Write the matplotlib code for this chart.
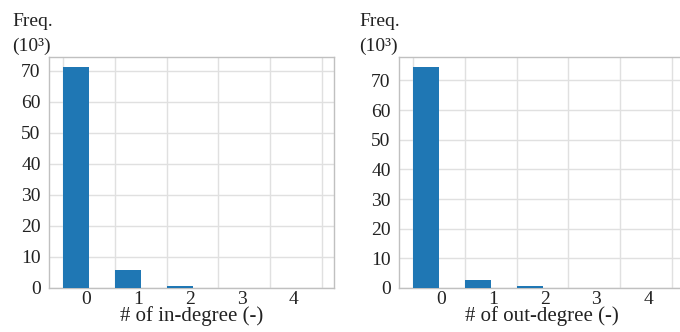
import numpy as np
import matplotlib.pyplot as plt

plt.rcParams['font.family'] = ['Liberation Serif', 'DejaVu Serif']

# degree bins and frequencies (x 10^3)
degree = [0, 1, 2, 3, 4]
freq_in = [71.1, 5.7, 0.75, 0.12, 0.03]
freq_out = [74.4, 2.7, 0.56, 0.05, 0.03]
tick_labels = ["0", "1", "2", "3", "4"]

fig = plt.figure(figsize=(6.8, 3.32), dpi=100)
W, H = 680, 332

def px(l, t, r, b):
    return [l / W, 1 - b / H, (r - l) / W, (b - t) / H]

panels = [
    (px(49, 57, 334, 288), freq_in, 74.4, "# of in-degree (-)", 0.45, 12),
    (px(399, 57, 684, 288), freq_out, 77.9, "# of out-degree (-)", 0.54, 359),
]

for rect, vals, ytop, xlab, off, fx in panels:
    ax = fig.add_axes(rect)
    ax.bar(degree, vals, width=0.5, align='edge', color='#1f77b4', zorder=3)
    ax.set_xlim(-0.27, 5.23)
    ax.set_ylim(0, ytop)
    ax.set_xticks(np.arange(0, 6))
    ax.set_xticklabels([])
    ax.set_xticks(np.array(degree) + off, minor=True)
    ax.set_xticklabels(tick_labels, minor=True)
    ax.set_yticks(np.arange(0, 71, 10))
    ax.tick_params(axis='both', which='both', length=0, labelsize=14, colors='#222222')
    ax.tick_params(axis='y', pad=6)
    ax.tick_params(axis='x', which='minor', pad=2)
    ax.grid(True, which='major', color='#e0e0e0', linewidth=1.0, zorder=0)
    for s in ax.spines.values():
        s.set_color('#c0c0c0')
        s.set_linewidth(1.0)
    ax.set_xlabel(xlab, fontsize=15, labelpad=-1, color='#222222')
    fig.text(fx / W, 1 - 21 / H, "Freq.", fontsize=14, va='center', ha='left', color='#222222')
    fig.text(fx / W, 1 - 46 / H, "(10³)", fontsize=14, va='center', ha='left', color='#222222')

fig.savefig("out.png", dpi=100)
